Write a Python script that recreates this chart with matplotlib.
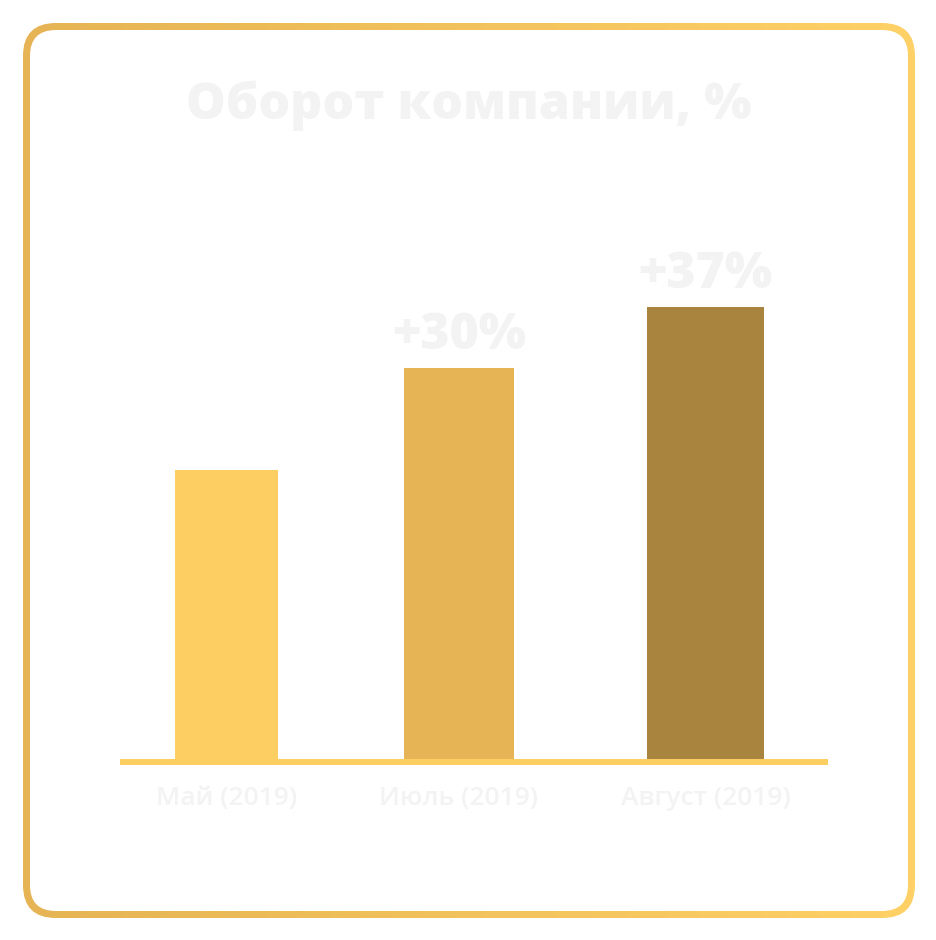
import numpy as np
import matplotlib
matplotlib.use("Agg")
from matplotlib import pyplot as plt
from matplotlib.patches import FancyBboxPatch

categories = ["Май (2019)", "Июль (2019)", "Август (2019)"]
values = [64.2, 86.6, 100.0]          # relative turnover
growth_labels = [None, "+30%", "+37%"]
title = "Оборот компании, %"

bar_colors = ["#FDCF62", "#E6B454", "#A9843F"]
text_color = "#F3F3F3"
font = ["Open Sans", "DejaVu Sans"]

W, H = 937, 940
fig = plt.figure(figsize=(W / 100, H / 100), dpi=100)
fig.patch.set_facecolor("white")

# background axes in pixel units for the framed card
bg = fig.add_axes([0, 0, 1, 1])
bg.set_xlim(0, W)
bg.set_ylim(H, 0)
bg.axis("off")

outer = FancyBboxPatch((23 + 33, 23 + 33), 892 - 66, 895 - 66,
                       boxstyle="round,pad=33", linewidth=0, facecolor="none")
bg.add_patch(outer)
grad = np.linspace(0, 1, 256).reshape(1, -1)
cmap = matplotlib.colors.LinearSegmentedColormap.from_list("g", ["#E6B454", "#FFD166"])
im = bg.imshow(grad, cmap=cmap, extent=[23, 915, 918, 23], aspect="auto", zorder=1)
im.set_clip_path(outer)
inner = FancyBboxPatch((30 + 26, 30 + 26), 878 - 52, 881 - 52,
                       boxstyle="round,pad=26", linewidth=0, facecolor="white", zorder=2)
bg.add_patch(inner)

bg.text(469, 106, title, ha="center", va="center", fontsize=36,
        fontweight="heavy", color=text_color, family=font, zorder=3)

# chart axes: x 120..828 px, y baseline at 762 px
ax_left, ax_right, ax_bottom, ax_top = 120, 828, 762, 162
ax = fig.add_axes([ax_left / W, 1 - ax_bottom / H,
                   (ax_right - ax_left) / W, (ax_bottom - ax_top) / H])
ax.patch.set_alpha(0)
x_pos = [106.5, 339, 585.5]
widths = [103, 110, 117]
ax.set_xlim(0, ax_right - ax_left)
ax.set_ylim(0, 100 * (ax_bottom - ax_top) / 455)

bars = ax.bar(x_pos, values, width=widths, color=bar_colors, zorder=2)
ax.axhline(0, color="#FDCF62", linewidth=6 * 0.72, zorder=3, clip_on=False,
           solid_capstyle="butt")

for b, lab in zip(bars, growth_labels):
    if lab:
        ax.annotate(lab, (b.get_x() + b.get_width() / 2, b.get_height()),
                    xytext=(0, 23), textcoords="offset points",
                    ha="center", va="center", fontsize=36, fontweight="heavy",
                    color=text_color, family=font)

for s in ax.spines.values():
    s.set_visible(False)
ax.set_yticks([])
ax.set_xticks(x_pos, categories)
ax.tick_params(axis="x", length=0, pad=17, labelsize=19, labelcolor=text_color)
for t in ax.get_xticklabels():
    t.set_family(font)
    t.set_fontweight("semibold")

fig.savefig("out.png", dpi=100, facecolor="white")
